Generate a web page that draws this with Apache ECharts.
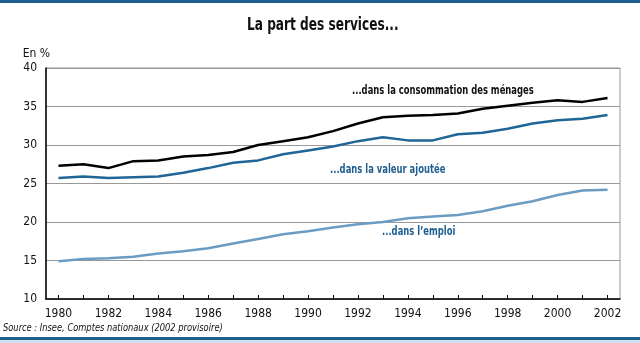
<!DOCTYPE html>
<html><head><meta charset="utf-8">
<script src="https://cdn.jsdelivr.net/npm/echarts@6/dist/echarts.min.js"></script>
<style>html,body{margin:0;padding:0;background:#fff}#c{width:640px;height:343px}</style>
</head><body><div id="c"></div>
<script>
const years = ['1980','1981','1982','1983','1984','1985','1986','1987','1988','1989','1990','1991','1992','1993','1994','1995','1996','1997','1998','1999','2000','2001','2002'];
const consommation = [27.3,27.5,27.0,27.9,28.0,28.5,28.7,29.1,30.0,30.5,31.0,31.8,32.8,33.6,33.8,33.9,34.1,34.7,35.1,35.5,35.8,35.6,36.1];
const valeurAjoutee = [25.7,25.9,25.7,25.8,25.9,26.4,27.0,27.7,28.0,28.8,29.3,29.8,30.5,31.0,30.6,30.6,31.4,31.6,32.1,32.8,33.2,33.4,33.9];
const emploi = [14.9,15.2,15.3,15.5,15.9,16.2,16.6,17.2,17.8,18.4,18.8,19.3,19.7,20.0,20.5,20.7,20.9,21.4,22.1,22.7,23.5,24.1,24.2];
const yTicks = [10,15,20,25,30,35,40];

const F = '"Liberation Sans Narrow","DejaVu Sans Condensed","Liberation Sans",sans-serif';
const chart = echarts.init(document.getElementById('c'), null, {renderer:'canvas'});
chart.setOption({
  animation:false,
  grid:{left:46, right:20, top:68, bottom:44, show:true, borderColor:'#999', borderWidth:1},
  xAxis:{type:'category', data:years, boundaryGap:true,
    axisLine:{lineStyle:{color:'#000', width:1.5}},
    axisTick:{show:true, inside:true, alignWithLabel:true, interval:0, length:4, lineStyle:{color:'#000'}},
    axisLabel:{interval:1, fontFamily:F, fontSize:12, color:'#111', margin:9}},
  yAxis:{type:'value', min:10, max:40, interval:5, name:'En %', nameLocation:'end', nameGap:8,
    nameTextStyle:{fontFamily:F, fontSize:12, color:'#111', align:'right', padding:[0,-4,0,0]},
    axisLine:{show:true, lineStyle:{color:'#000', width:1.5}},
    axisTick:{show:false},
    axisLabel:{fontFamily:F, fontSize:12, color:'#111', margin:9,
      formatter:v=>yTicks.includes(v)?String(v):''},
    splitLine:{lineStyle:{color:'#999', width:1}}},
  series:[
    {name:'consommation', type:'line', data:consommation, symbol:'none', lineStyle:{color:'#000', width:2.5}},
    {name:'valeur', type:'line', data:valeurAjoutee, symbol:'none', lineStyle:{color:'#1f6596', width:2.5}},
    {name:'emploi', type:'line', data:emploi, symbol:'none', lineStyle:{color:'#6a9cc4', width:2.5}}
  ],
  graphic:[
    {type:'rect', left:0, top:0, shape:{width:640, height:3}, style:{fill:'#1f5f90'}},
    {type:'rect', left:0, top:337, shape:{width:640, height:3}, style:{fill:'#1f5f90'}},
    {type:'rect', left:0, top:340, shape:{width:640, height:3}, style:{fill:'#cfe0ee'}},
    {type:'text', left:247, top:16, scaleX:0.75, style:{text:'La part des services...', font:'bold 18px '+F, fill:'#111'}},
    {type:'text', left:352, top:84, scaleX:0.72, style:{text:'...dans la consommation des ménages', font:'bold 13px '+F, fill:'#111'}},
    {type:'text', left:330, top:163, scaleX:0.72, style:{text:'...dans la valeur ajoutée', font:'bold 13px '+F, fill:'#1f5f90'}},
    {type:'text', left:382, top:225, scaleX:0.72, style:{text:'...dans l\u2019emploi', font:'bold 13px '+F, fill:'#1f5f90'}},
    {type:'text', left:3, top:323, scaleX:0.84, style:{text:'Source : Insee, Comptes nationaux (2002 provisoire)', font:'italic 11px '+F, fill:'#111'}}
  ]
});
</script></body></html>
